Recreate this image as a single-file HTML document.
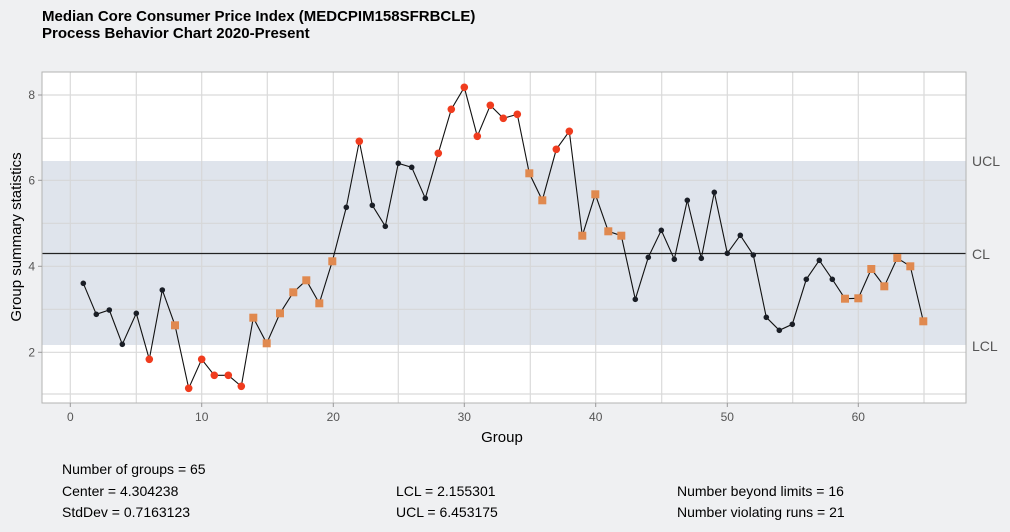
<!DOCTYPE html>
<html><head><meta charset="utf-8"><style>
html,body{margin:0;padding:0;background:#eff0f2;}
svg{display:block;font-family:"Liberation Sans",Arial,sans-serif;}
</style></head><body>
<svg width="1010" height="532" viewBox="0 0 1010 532" xmlns="http://www.w3.org/2000/svg">
<rect width="1010" height="532" fill="#eff0f2"/>
<text x="42" y="21" font-size="15" font-weight="bold" fill="#000">Median Core Consumer Price Index (MEDCPIM158SFRBCLE)</text>
<text x="42" y="38" font-size="15" font-weight="bold" fill="#000">Process Behavior Chart 2020-Present</text>
<rect x="42" y="72" width="924" height="331" fill="#fff"/>
<rect x="42" y="161" width="924" height="184" fill="#dfe4ec"/>
<g stroke="#d6d6d6" stroke-width="1.2" opacity="0.9">
<line x1="42" x2="966" y1="95" y2="95"/><line x1="42" x2="966" y1="138.3" y2="138.3"/>
<line x1="42" x2="966" y1="180.3" y2="180.3"/><line x1="42" x2="966" y1="223.3" y2="223.3"/>
<line x1="42" x2="966" y1="266.3" y2="266.3"/><line x1="42" x2="966" y1="309.3" y2="309.3"/>
<line x1="42" x2="966" y1="352.3" y2="352.3"/><line x1="42" x2="966" y1="394" y2="394"/>
<line y1="72" y2="403" x1="70.3" x2="70.3"/><line y1="72" y2="403" x1="136.3" x2="136.3"/>
<line y1="72" y2="403" x1="201.7" x2="201.7"/><line y1="72" y2="403" x1="267.3" x2="267.3"/>
<line y1="72" y2="403" x1="333.3" x2="333.3"/><line y1="72" y2="403" x1="398.3" x2="398.3"/>
<line y1="72" y2="403" x1="464.3" x2="464.3"/><line y1="72" y2="403" x1="530.3" x2="530.3"/>
<line y1="72" y2="403" x1="595.7" x2="595.7"/><line y1="72" y2="403" x1="661.7" x2="661.7"/>
<line y1="72" y2="403" x1="727.3" x2="727.3"/><line y1="72" y2="403" x1="792.7" x2="792.7"/>
<line y1="72" y2="403" x1="858.3" x2="858.3"/><line y1="72" y2="403" x1="924" x2="924"/>
</g>
<line x1="42" x2="966" y1="253.5" y2="253.5" stroke="#222" stroke-width="1.2"/>
<rect x="42" y="72" width="924" height="331" fill="none" stroke="#b3b3b3" stroke-width="1"/>
<polyline fill="none" stroke="#111" stroke-width="1.1" points="83.3,283.3 96.3,314.3 109.3,310 122.3,344.3 136.3,313.3 149.3,359.3 162.3,290 175,325.3 188.7,388.3 201.7,359.3 214.3,375.3 228.3,375.3 241.3,386.3 253.3,317.7 266.7,343.3 280,313.3 293.3,292.3 306.3,280.3 319.3,303.3 332.3,261.3 346.3,207.3 359.3,141.3 372.3,205.3 385.3,226.3 398.3,163.3 411.7,167.3 425.3,198.3 438.3,153.3 451.3,109.3 464.3,87.3 477.3,136.3 490.3,105.3 503.3,118.3 517.3,114.3 529.3,173.3 542.3,200.3 556.3,149.3 569.3,131.3 582.3,235.7 595.3,194.3 608.3,231.3 621.3,235.7 635.3,299.3 648.3,257.3 661.3,230.3 674.3,259.3 687.3,200.3 701.3,258.3 714.3,192.3 727.3,253.3 740.3,235.3 753.3,255 766.3,317.3 779.3,330.3 792.3,324.3 806.3,279.3 819.3,260.3 832.3,279.3 845,298.7 858.3,298.3 871.3,269 884.3,286.3 897.3,258 910.3,266.3 923.3,321.3"/>
<g fill="#1a1e26">
<circle cx="83.3" cy="283.3" r="2.8"/><circle cx="96.3" cy="314.3" r="2.8"/><circle cx="109.3" cy="310" r="2.8"/><circle cx="122.3" cy="344.3" r="2.8"/><circle cx="136.3" cy="313.3" r="2.8"/><circle cx="162.3" cy="290" r="2.8"/>
<circle cx="346.3" cy="207.3" r="2.8"/><circle cx="372.3" cy="205.3" r="2.8"/><circle cx="385.3" cy="226.3" r="2.8"/><circle cx="398.3" cy="163.3" r="2.8"/><circle cx="411.7" cy="167.3" r="2.8"/><circle cx="425.3" cy="198.3" r="2.8"/>
<circle cx="635.3" cy="299.3" r="2.8"/><circle cx="648.3" cy="257.3" r="2.8"/><circle cx="661.3" cy="230.3" r="2.8"/><circle cx="674.3" cy="259.3" r="2.8"/><circle cx="687.3" cy="200.3" r="2.8"/><circle cx="701.3" cy="258.3" r="2.8"/><circle cx="714.3" cy="192.3" r="2.8"/><circle cx="727.3" cy="253.3" r="2.8"/><circle cx="740.3" cy="235.3" r="2.8"/><circle cx="753.3" cy="255" r="2.8"/><circle cx="766.3" cy="317.3" r="2.8"/><circle cx="779.3" cy="330.3" r="2.8"/><circle cx="792.3" cy="324.3" r="2.8"/><circle cx="806.3" cy="279.3" r="2.8"/><circle cx="819.3" cy="260.3" r="2.8"/><circle cx="832.3" cy="279.3" r="2.8"/>
</g>
<g fill="#f03c1e">
<circle cx="149.3" cy="359.3" r="3.8"/><circle cx="188.7" cy="388.3" r="3.8"/><circle cx="201.7" cy="359.3" r="3.8"/><circle cx="214.3" cy="375.3" r="3.8"/><circle cx="228.3" cy="375.3" r="3.8"/><circle cx="241.3" cy="386.3" r="3.8"/>
<circle cx="359.3" cy="141.3" r="3.8"/><circle cx="438.3" cy="153.3" r="3.8"/><circle cx="451.3" cy="109.3" r="3.8"/><circle cx="464.3" cy="87.3" r="3.8"/><circle cx="477.3" cy="136.3" r="3.8"/><circle cx="490.3" cy="105.3" r="3.8"/><circle cx="503.3" cy="118.3" r="3.8"/><circle cx="517.3" cy="114.3" r="3.8"/><circle cx="556.3" cy="149.3" r="3.8"/><circle cx="569.3" cy="131.3" r="3.8"/>
</g>
<g fill="#e0894f">
<rect x="171" y="321.3" width="8" height="8"/><rect x="249.3" y="313.7" width="8" height="8"/><rect x="262.7" y="339.3" width="8" height="8"/><rect x="276" y="309.3" width="8" height="8"/><rect x="289.3" y="288.3" width="8" height="8"/><rect x="302.3" y="276.3" width="8" height="8"/><rect x="315.3" y="299.3" width="8" height="8"/><rect x="328.3" y="257.3" width="8" height="8"/>
<rect x="525.3" y="169.3" width="8" height="8"/><rect x="538.3" y="196.3" width="8" height="8"/><rect x="578.3" y="231.7" width="8" height="8"/><rect x="591.3" y="190.3" width="8" height="8"/><rect x="604.3" y="227.3" width="8" height="8"/><rect x="617.3" y="231.7" width="8" height="8"/>
<rect x="841" y="294.7" width="8" height="8"/><rect x="854.3" y="294.3" width="8" height="8"/><rect x="867.3" y="265" width="8" height="8"/><rect x="880.3" y="282.3" width="8" height="8"/><rect x="893.3" y="254" width="8" height="8"/><rect x="906.3" y="262.3" width="8" height="8"/><rect x="919.3" y="317.3" width="8" height="8"/>
</g>
<g stroke="#999" stroke-width="1">
<line x1="38" x2="42" y1="95" y2="95"/><line x1="38" x2="42" y1="180.3" y2="180.3"/><line x1="38" x2="42" y1="266.3" y2="266.3"/><line x1="38" x2="42" y1="352.3" y2="352.3"/>
<line y1="403" y2="407" x1="70.3" x2="70.3"/><line y1="403" y2="407" x1="201.7" x2="201.7"/><line y1="403" y2="407" x1="333.3" x2="333.3"/><line y1="403" y2="407" x1="464.3" x2="464.3"/><line y1="403" y2="407" x1="595.7" x2="595.7"/><line y1="403" y2="407" x1="727.3" x2="727.3"/><line y1="403" y2="407" x1="858.3" x2="858.3"/>
</g>
<g font-size="12" fill="#555" text-anchor="end">
<text x="35" y="99">8</text><text x="35" y="184.5">6</text><text x="35" y="270.5">4</text><text x="35" y="356.5">2</text>
</g>
<g font-size="12" fill="#555" text-anchor="middle">
<text x="70.3" y="421">0</text><text x="201.7" y="421">10</text><text x="333.3" y="421">20</text><text x="464.3" y="421">30</text><text x="595.7" y="421">40</text><text x="727.3" y="421">50</text><text x="858.3" y="421">60</text>
</g>
<text x="502" y="442" font-size="15" fill="#000" text-anchor="middle">Group</text>
<text transform="translate(21,237) rotate(-90)" font-size="15" fill="#000" text-anchor="middle">Group summary statistics</text>
<g font-size="14" fill="#555">
<text x="972" y="166">UCL</text><text x="972" y="259">CL</text><text x="972" y="351">LCL</text>
</g>
<g font-size="14" fill="#000">
<text x="62" y="474">Number of groups = 65</text>
<text x="62" y="496">Center = 4.304238</text>
<text x="62" y="517">StdDev = 0.7163123</text>
<text x="396" y="496">LCL = 2.155301</text>
<text x="396" y="517">UCL = 6.453175</text>
<text x="677" y="496">Number beyond limits = 16</text>
<text x="677" y="517">Number violating runs = 21</text>
</g>
</svg>
</body></html>
